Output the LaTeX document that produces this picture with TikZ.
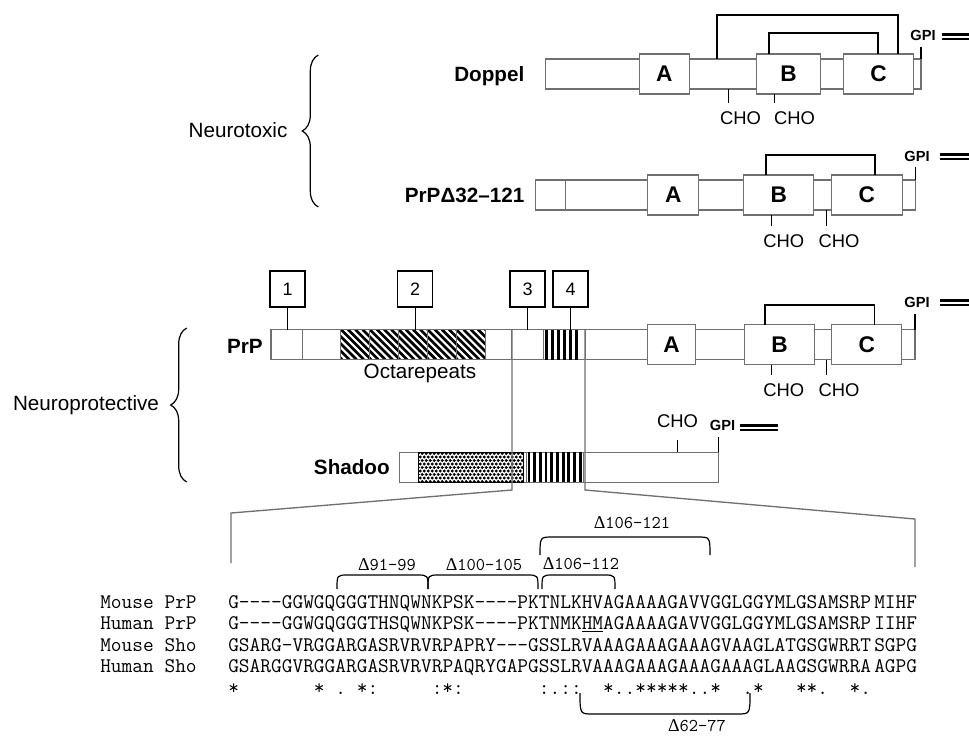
\documentclass[tikz,border=0pt]{standalone}
\usepackage{fontspec}
\setmainfont{Liberation Sans}
\newfontfamily\dfont{Liberation Serif}
\usetikzlibrary{fit,decorations.pathreplacing}
\definecolor{boxgray}{HTML}{707070}
\definecolor{zoomgray}{HTML}{707070}
\begin{document}
\begin{tikzpicture}[x=0.75pt,y=-0.75pt,
  bar/.style={draw=boxgray,line width=0.8pt,fill=white,inner sep=0pt,outer sep=0pt},
  dom/.style={bar},
  domtxt/.style={font=\fontsize{17}{17}\selectfont\bfseries,inner sep=0pt},
  callout/.style={draw=black,line width=1.1pt,fill=white,inner sep=0pt,outer sep=0pt},
  cotxt/.style={font=\fontsize{13.5}{14}\selectfont,inner sep=0pt},
  lab/.style={font=\fontsize{15.5}{16}\selectfont\bfseries,inner sep=0pt},
  grp/.style={font=\fontsize{15.5}{16}\selectfont,inner sep=0pt},
  cho/.style={font=\fontsize{13.8}{14}\selectfont,inner sep=0pt},
  gpi/.style={font=\fontsize{11}{11}\selectfont\bfseries,inner sep=0pt},
  ssbond/.style={line width=1.2pt,black},
  tick/.style={line width=0.8pt,black},
  gpiline/.style={line width=1.8pt,black},
  zoomline/.style={draw=zoomgray,line width=1pt},
  seq/.style={font=\fontsize{15.6}{16}\selectfont\ttfamily,inner sep=0pt,anchor=base west},
  dlab/.style={font=\fontsize{13.5}{14}\selectfont\ttfamily,inner sep=0pt},
  brk/.style={line width=0.9pt,black},
  curly/.style={decorate,decoration={brace,amplitude=12pt},line width=0.9pt},
  hatchline/.style={line width=2pt,black},
]
\useasboundingbox (0,0) rectangle (969,736);

%================ Doppel ================
\node[bar,fit={(545.3,59)(921,89)}] (dopbar) {};
\node[dom,fit={(639.2,54)(689.2,94)}] (dopA) {};
\node[dom,fit={(756.8,54)(820.3,94)}] (dopB) {};
\node[dom,fit={(843.6,54)(913.4,94)}] (dopC) {};
\node[domtxt] (dopAt) at (dopA.center) {A};
\node[domtxt] (dopBt) at (dopB.center) {B};
\node[domtxt] (dopCt) at (dopC.center) {C};
\node[lab,anchor=base east] (doplab) at (524.6,81.5) {Doppel};
\coordinate (dopS1) at (717,15);
\coordinate (dopS2) at (897.7,15);
\draw[ssbond] (dopS1 |- dopbar.north) -- (dopS1) -- (dopS2) -- (dopS2 |- dopC.north);
\coordinate (dopS3) at (768.8,32.7);
\coordinate (dopS4) at (877.7,32.7);
\draw[ssbond] (dopS3 |- dopB.north) -- (dopS3) -- (dopS4) -- (dopS4 |- dopC.north);
\node[gpi] (dopgpi) at (923,35) {GPI};
\coordinate (dopgt) at (921,46.7);
\draw[tick] (dopgt |- dopbar.north) -- (dopgt);
\draw[gpiline] (941.6,34.5) -- (969,34.5) (941.6,38.7) -- (969,38.7);
\node[cho] (dopcho1) at (740.6,118.3) {CHO};
\node[cho] (dopcho2) at (794.5,118.3) {CHO};
\coordinate (dopct1) at (728.6,103.3);
\coordinate (dopct2) at (774.4,103.3);
\draw[tick] (dopct1 |- dopbar.south) -- (dopct1);
\draw[tick] (dopct2 |- dopB.south) -- (dopct2);

%================ PrP delta 32-121 ================
\node[bar,fit={(535.9,180)(915.3,210)}] (delbar) {};
\node[bar,fit={(535.9,180)(565.2,210)}] (delseg) {};
\node[dom,fit={(647.8,175)(698.6,215)}] (delA) {};
\node[dom,fit={(743.6,175)(813.9,215)}] (delB) {};
\node[dom,fit={(831.5,175)(902.2,215)}] (delC) {};
\node[domtxt] (delAt) at (delA.center) {A};
\node[domtxt] (delBt) at (delB.center) {B};
\node[domtxt] (delCt) at (delC.center) {C};
\node[lab,anchor=east] (dellab) at (524.6,195.5) {PrPΔ32–121};
\coordinate (delS1) at (766.2,155);
\coordinate (delS2) at (875.1,155);
\draw[ssbond] (delS1 |- delB.north) -- (delS1) -- (delS2) -- (delS2 |- delC.north);
\node[gpi] (delgpi) at (917,156) {GPI};
\coordinate (delgt) at (915.3,166.7);
\draw[tick] (delgt |- delbar.north) -- (delgt);
\draw[gpiline] (939.7,154.5) -- (969,154.5) (939.7,158.7) -- (969,158.7);
\node[cho] (delcho1) at (783.7,240.7) {CHO};
\node[cho] (delcho2) at (839,240.7) {CHO};
\coordinate (delct1) at (771.4,226);
\coordinate (delct2) at (826.3,226);
\draw[tick] (delct1 |- delB.south) -- (delct1);
\draw[tick] (delct2 |- delbar.south) -- (delct2);

%================ PrP ================
\node[bar,fit={(271,329.5)(915,359.5)}] (prpbar) {};
\node[bar,fit={(271,329.5)(302.7,359.5)}] (prpseg1) {};
\foreach \s in {0,...,4}{
  \node[bar,fit={({340.9+\s*28.86},329.5)({340.9+(\s+1)*28.86},359.5)}] (oct\s) {};
  \begin{scope}
    \clip ({340.9+\s*28.86},329.5) rectangle ({340.9+(\s+1)*28.86},359.5);
    \foreach \k in {-5,...,4}
      \draw[hatchline] ({340.9+\s*28.86+\k*7.2},329.5) -- ++(30,30);
  \end{scope}
  \draw[draw=boxgray,line width=0.8pt] ({340.9+\s*28.86},329.5) rectangle ({340.9+(\s+1)*28.86},359.5);
}
\node[bar,fit={(511.4,329.5)(543.5,359.5)}] (prpseg3) {};
\node[bar,fit={(543.5,329.5)(585.5,359.5)}] (prpseg4) {};
\foreach \k in {0,...,5}
  \fill[black] ({544.5+\k*6},329.5) rectangle ++(3,30);
\node[dom,fit={(647.6,324.5)(695.4,364.5)}] (prpA) {};
\node[dom,fit={(744.1,324.5)(814.8,364.5)}] (prpB) {};
\node[dom,fit={(831.6,324.5)(901.8,364.5)}] (prpC) {};
\node[domtxt] (prpAt) at (prpA.center) {A};
\node[domtxt] (prpBt) at (prpB.center) {B};
\node[domtxt] (prpCt) at (prpC.center) {C};
\node[lab,anchor=east] (prplab) at (263,346) {PrP};
\node[grp,anchor=base] (octlab) at (420,378) {Octarepeats};
% callouts
\node[callout,fit={(270.2,271)(305,307)}] (co1) {};
\node[callout,fit={(397.7,271)(432.6,307)}] (co2) {};
\node[callout,fit={(510,271)(545,307)}] (co3) {};
\node[callout,fit={(553,271)(588,307)}] (co4) {};
\node[cotxt] (co1t) at (co1.center) {1};
\node[cotxt] (co2t) at (co2.center) {2};
\node[cotxt] (co3t) at (co3.center) {3};
\node[cotxt] (co4t) at (co4.center) {4};
\draw[tick] (co1.south) -- (co1.south |- prpbar.north);
\draw[tick] (co2.south) -- (co2.south |- prpbar.north);
\draw[tick] (co3.south) -- (co3.south |- prpbar.north);
\draw[tick] (co4.south) -- (co4.south |- prpbar.north);
\coordinate (prpS1) at (764.7,305);
\coordinate (prpS2) at (874.6,305);
\draw[ssbond] (prpS1 |- prpB.north) -- (prpS1) -- (prpS2) -- (prpS2 |- prpC.north);
\node[gpi] (prpgpi) at (917,302) {GPI};
\coordinate (prpgt) at (915,314);
\draw[tick] (prpgt |- prpbar.north) -- (prpgt);
\draw[gpiline] (939.7,300.5) -- (969,300.5) (939.7,304.7) -- (969,304.7);
\node[cho] (prpcho1) at (783.7,390.5) {CHO};
\node[cho] (prpcho2) at (839,390.5) {CHO};
\coordinate (prpct1) at (771.8,375);
\coordinate (prpct2) at (826.8,375);
\draw[tick] (prpct1 |- prpB.south) -- (prpct1);
\draw[tick] (prpct2 |- prpbar.south) -- (prpct2);

%================ Shadoo ================
\node[bar,fit={(399.3,452.3)(718.3,482.3)}] (shobar) {};
\node[bar,fit={(418.3,452.3)(523.3,482.3)}] (shostip) {};
\begin{scope}
  \clip (418.3,452.3) rectangle (523.3,482.3);
  \foreach \i in {0,...,27}
    \foreach \j in {0,...,8}
      \fill[black] ({418.3+\i*4+mod(\j,2)*2},{453.5+\j*3.5}) circle (1.25pt);
\end{scope}
\draw[draw=black,line width=0.8pt] (418.3,452.3) rectangle (523.3,482.3);
\node[bar,fit={(526.7,452.3)(583.3,482.3)}] (shostr) {};
\foreach \k in {0,...,9}
  \fill[black] ({527.5+\k*5.7},452.3) rectangle ++(2.8,30);
\node[lab,anchor=east] (sholab) at (390,467.3) {Shadoo};
\node[cho] (shocho) at (677.5,421) {CHO};
\coordinate (shoct) at (677.7,440);
\draw[tick] (shoct |- shobar.north) -- (shoct);
\node[gpi] (shogpi) at (722.5,425) {GPI};
\coordinate (shogt) at (718.3,437);
\draw[tick] (shogt |- shobar.north) -- (shogt);
\draw[gpiline] (740,425.5) -- (778.3,425.5) (740,429.7) -- (778.3,429.7);

%================ groups ================
\node[grp] (neurotox) at (238,130) {Neurotoxic};
\draw[curly] (318.3,207) -- (318.3,55);
\node[grp,anchor=base] (neuroprot) at (86,410) {Neuroprotective};
\draw[curly] (186.7,482) -- (186.7,328);

%================ zoom lines ================
\coordinate (zl1) at (512,490);
\coordinate (zl2) at (231,513);
\coordinate (zl3) at (231,563);
\draw[zoomline] (zl1 |- prpbar.north) -- (zl1) -- (zl2) -- (zl3);
\coordinate (zr1) at (585,490);
\coordinate (zr2) at (915,519);
\coordinate (zr3) at (915,567);
\draw[zoomline] (zr1 |- prpbar.north) -- (zr1) -- (zr2) -- (zr3);

%================ alignment ================
\node[seq] (n1) at (100,608) {Mouse PrP};
\node[seq] (n2) at (100,629.5) {Human PrP};
\node[seq] (n3) at (100,651) {Mouse Sho};
\node[seq] (n4) at (100,672.5) {Human Sho};
\node[seq] (s1) at (228,608) {G----GGWGQGGGTHNQWNKPSK----PKTNLKHVAGAAAAGAVVGGLGGYMLGSAMSRP};
\node[seq] (s2) at (228,629.5) {G----GGWGQGGGTHSQWNKPSK----PKTNMK\underline{HM}AGAAAAGAVVGGLGGYMLGSAMSRP};
\node[seq] (s3) at (228,651) {GSARG-VRGGARGASRVRVRPAPRY---GSSLRVAAAGAAAGAAAGVAAGLATGSGWRRT};
\node[seq] (s4) at (228,672.5) {GSARGGVRGGARGASRVRVRPAQRYGAPGSSLRVAAAGAAAGAAAGAAAGLAAGSGWRRA};
\node[seq] (s5) at (228,694) {*\ \ \ \ \ \ \ *\ .\ *:\ \ \ \ \ :*:\ \ \ \ \ \ \ :.::\ \ *..*****..*\ \ .*\ \ \ **.\ \ *.};
\node[seq] (e1) at (874,608) {MIHF};
\node[seq] (e2) at (874,629.5) {IIHF};
\node[seq] (e3) at (874,651) {SGPG};
\node[seq] (e4) at (874,672.5) {AGPG};

% deletion brackets
\draw[brk] (337,589) .. controls (337,575) .. (348,575) -- (417,575) .. controls (428,575) .. (428,589);
\draw[brk] (428,589) .. controls (428,575) .. (439,575) -- (527,575) .. controls (538,575) .. (538,589);
\draw[brk] (542,589) .. controls (542,575) .. (553,575) -- (604,575) .. controls (615,575) .. (615,589);
\draw[brk] (540,555) .. controls (540,537) .. (553,537) -- (697,537) .. controls (710,537) .. (710,555);
\draw[brk] (580,693) .. controls (580,714) .. (593,714) -- (737,714) .. controls (750,714) .. (750,693);
\node[dlab] (d1) at (387,565) {{\dfont Δ}91-99};
\node[dlab] (d2) at (484,565) {{\dfont Δ}100-105};
\node[dlab] (d3) at (581,564) {{\dfont Δ}106-112};
\node[dlab] (d4) at (632,523) {{\dfont Δ}106-121};
\node[dlab] (d5) at (697,726) {{\dfont Δ}62-77};
\end{tikzpicture}
\end{document}
